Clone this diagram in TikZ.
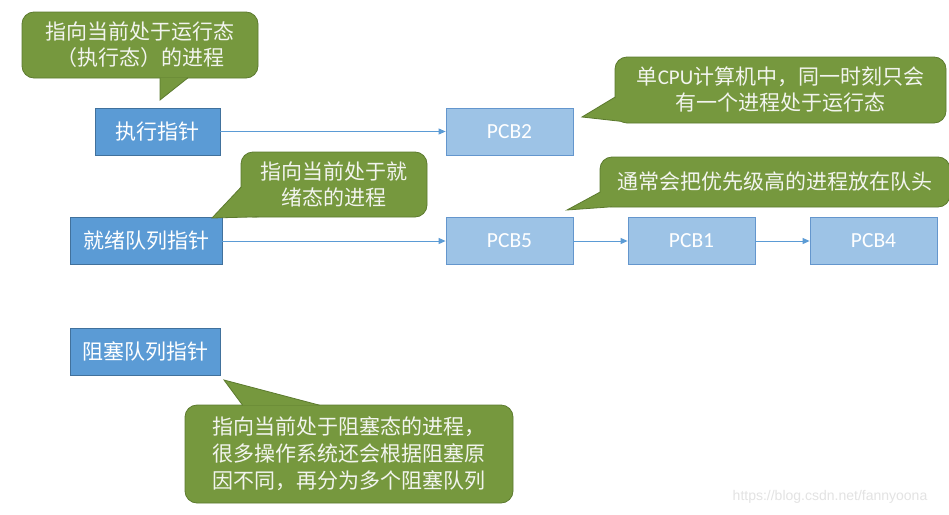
\documentclass[tikz,border=0pt]{standalone}
\usepackage{fontspec}
\setmainfont{Carlito}
\newfontfamily\cjk{Noto Sans CJK SC}
\newfontfamily\urlfont{Liberation Sans}
\usetikzlibrary{arrows.meta}
\definecolor{ptrfill}{RGB}{91, 155, 213}
\definecolor{ptredge}{RGB}{65, 113, 156}
\definecolor{pcbfill}{RGB}{157, 195, 230}
\definecolor{pcbedge}{RGB}{100, 150, 205}
\definecolor{notefill}{RGB}{118, 152, 62}
\definecolor{noteedge}{RGB}{92, 122, 46}
\definecolor{notetext}{RGB}{242, 244, 238}
\tikzset{
  ptr/.style={draw=ptredge, fill=ptrfill, line width=0.8pt, text=white,
    inner sep=0pt, minimum height=47pt, font=\cjk\fontsize{21}{26}\selectfont},
  pcb/.style={draw=pcbedge, fill=pcbfill, line width=0.8pt, text=white,
    inner sep=0pt, minimum width=127pt, minimum height=47pt,
    font=\fontsize{21.5}{26}\selectfont},
  note/.style={draw=noteedge, fill=notefill, line width=0.8pt,
    rounded corners=12pt, text=notetext, inner sep=0pt, align=center,
    font=\cjk\fontsize{21}{26}\selectfont},
  tail/.style={draw=noteedge, fill=notefill, line width=0.8pt},
  link/.style={draw=ptrfill, line width=0.9pt, -{Triangle[length=7pt, width=6pt]}}
}

\begin{document}
\begin{tikzpicture}[x=1pt, y=-1pt]

  \useasboundingbox (0, 0) rectangle (949, 514);
  \fill[white] (0, 0) rectangle (949, 514);

  % pointers and PCBs
  \node[ptr, minimum width=125pt] (exe) at (157.5, 131.5) {执行指针};
  \node[pcb] (pcbtwo) at (509.5, 131.5) {PCB2};
  \node[ptr, minimum width=152pt] (ready) at (146, 241) {就绪队列指针};
  \foreach \name/\x/\lab in {pcbfive/509.5/PCB5, pcbone/691.5/PCB1, pcbfour/873.5/PCB4} {
    \node[pcb] (\name) at (\x, 241) {\lab};
  }
  \node[ptr, minimum width=150pt] (block) at (145, 351.5) {阻塞队列指针};

  \draw[link] (exe) -- (pcbtwo);
  \draw[link] (ready) -- (pcbfive);
  \draw[link] (pcbfive) -- (pcbone);
  \draw[link] (pcbone) -- (pcbfour);

  % callouts
  \coordinate (runtip) at (160, 100);
  \coordinate (cputip) at (582, 117);
  \coordinate (readytip) at (212, 218);
  \coordinate (headtip) at (567, 210);
  \coordinate (blocktip) at (224, 380);

  \node[note, minimum width=236pt, minimum height=66pt] (noterun) at (140, 45)
    {指向当前处于运行态\\（执行态）的进程};
  \path[tail] ([xshift=20pt, yshift=0.6pt]noterun.south) -- (runtip)
    -- ([xshift=48pt, yshift=0.6pt]noterun.south);

  \node[note, minimum width=331pt, minimum height=66pt] (notecpu) at (780.5, 90)
    {单{\rmfamily CPU}计算机中，同一时刻只会\\有一个进程处于运行态};
  \path[tail] ([xshift=0.6pt, yshift=-7pt]notecpu.west) -- (cputip)
    -- ([xshift=7pt, yshift=2pt]notecpu.south west);

  \node[note, minimum width=186pt, minimum height=65pt] (noteready) at (334, 184.5)
    {指向当前处于就\\绪态的进程};
  \path[tail] ([xshift=0.6pt, yshift=-2.5pt]noteready.west) -- (readytip)
    -- ([xshift=18pt, yshift=0.6pt]noteready.south west);

  \node[note, minimum width=350pt, minimum height=50pt] (notehead) at (775, 182)
    {通常会把优先级高的进程放在队头};
  \path[tail] ([xshift=0.6pt, yshift=-10pt]notehead.west) -- (headtip)
    -- ([xshift=12pt, yshift=0.6pt]notehead.south west);

  \node[note, align=left, minimum width=328pt, minimum height=98pt,
    font=\cjk\fontsize{21}{27}\selectfont] (noteblock) at (349, 454)
    {指向当前处于阻塞态的进程，\\很多操作系统还会根据阻塞原\\因不同，再分为多个阻塞队列};
  \path[tail] ([xshift=58pt, yshift=-0.6pt]noteblock.north west) -- (blocktip)
    -- ([xshift=135pt, yshift=-0.6pt]noteblock.north west);

  \node[font=\urlfont\fontsize{14}{16}\selectfont, text=black!11] (mark) at (830, 497)
    {https://blog.csdn.net/fannyoona};

\end{tikzpicture}
\end{document}
